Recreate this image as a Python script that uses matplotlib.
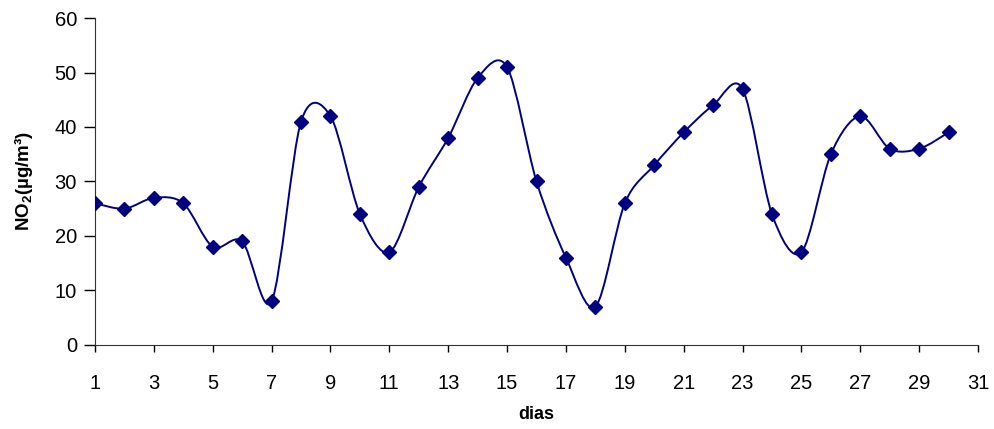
import matplotlib
matplotlib.use('Agg')
import matplotlib.pyplot as plt
from matplotlib.path import Path
from matplotlib.patches import PathPatch
import numpy as np

plt.rcParams['font.family'] = 'Liberation Sans'
plt.rcParams['mathtext.fontset'] = 'custom'
plt.rcParams['mathtext.rm'] = 'Liberation Sans:bold'
plt.rcParams['mathtext.bf'] = 'Liberation Sans:bold'

dias = list(range(1, 31))
no2 = [26, 25, 27, 26, 18, 19, 8, 41, 42, 24,
       17, 29, 38, 49, 51, 30, 16, 7, 26, 33,
       39, 44, 47, 24, 17, 35, 42, 36, 36, 39]
xticks = list(range(1, 32, 2))
yticks = list(range(0, 61, 10))

navy = '#000080'


def smooth_path(x, y):
    # Excel-like smoothed line: cubic Bezier segments (Catmull-Rom control points)
    p = np.column_stack([x, y]).astype(float)
    n = len(p)
    verts = [p[0]]
    codes = [Path.MOVETO]
    for i in range(n - 1):
        p0 = p[i - 1] if i > 0 else p[i]
        p1 = p[i]
        p2 = p[i + 1]
        p3 = p[i + 2] if i + 2 < n else p[i + 1]
        c1 = p1 + (p2 - p0) / 6.5
        c2 = p2 - (p3 - p1) / 6.5
        verts += [c1, c2, p2]
        codes += [Path.CURVE4] * 3
    return Path(verts, codes)


fig = plt.figure(figsize=(9.95, 4.29), dpi=100)
ax = fig.add_axes([0.0955, 0.196, 0.8874, 0.762])

ax.add_patch(PathPatch(smooth_path(dias, no2), facecolor='none',
                       edgecolor=navy, lw=1.4, zorder=2))
ax.plot(dias, no2, linestyle='none', marker='D', markersize=7.5,
        color=navy, zorder=3)

ax.set_xlim(1, 31)
ax.set_ylim(0, 60)
ax.set_xticks(xticks)
ax.set_yticks(yticks)
ax.tick_params(axis='both', labelsize=14.5, colors='black', width=1)
ax.tick_params(axis='y', length=8, pad=5)
ax.tick_params(axis='x', length=5, pad=16)
for s in ['top', 'right']:
    ax.spines[s].set_visible(False)
for s in ['left', 'bottom']:
    ax.spines[s].set_color('#333333')

ax.set_xlabel('dias', fontsize=13, fontweight='bold', labelpad=9)
ax.set_ylabel(r'NO$_2$(µg/m³)', fontsize=13.5, fontweight='bold', labelpad=14)

fig.savefig('out.png', dpi=100)
